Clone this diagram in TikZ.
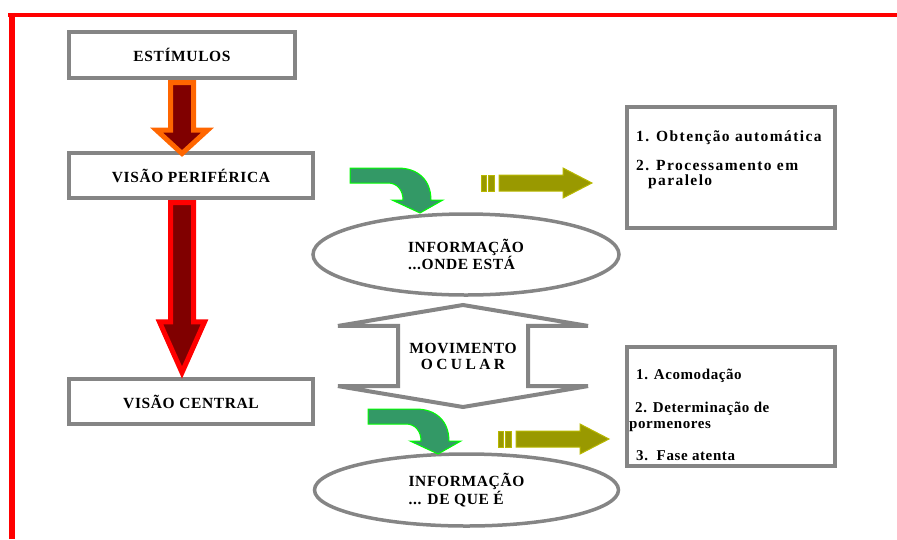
\documentclass[tikz,border=0pt]{standalone}
\usepackage{fontspec}
\usetikzlibrary{shapes.geometric, shapes.arrows, calc}
\usepackage{xcolor}
\newfontfamily\diagFont{Liberation Serif}[LetterSpace=4]
\newfontfamily\listFont{Liberation Serif}[LetterSpace=9]
\definecolor{frameRed}{HTML}{FF0000}
\definecolor{boxGray}{HTML}{858585}
\definecolor{arrowOrange}{HTML}{FF6600}
\definecolor{arrowMaroon}{HTML}{800000}
\definecolor{bendGreen}{HTML}{339966}
\definecolor{bendEdge}{HTML}{00FF00}
\definecolor{oliveFill}{HTML}{999900}
\definecolor{oliveEdge}{HTML}{B8B800}
\tikzset{
    BoldText/.style={font=\diagFont\bfseries\fontsize{15.5}{16}\selectfont},
    GrayBox/.style={BoldText, draw=boxGray, line width=4pt, fill=white, inner sep=0pt},
    InfoEllipse/.style={BoldText, ellipse, draw=boxGray, line width=3.5pt, inner sep=0pt, align=left},
    ListText/.style={align=left, inner sep=0pt, anchor=north west},
    DownArrow/.style={single arrow, rotate=-90, inner sep=0pt, line width=5pt, fill=arrowMaroon, anchor=tail},
    bendArrow/.pic={
        \draw[bendEdge, fill=bendGreen, line width=1pt] (0,0) -- (48,0)
            .. controls (68,0) and (81,12) .. (81,32) -- (93,32) -- (70,45) -- (42,32) -- (53,32)
            .. controls (53,22) and (47,15) .. (38,15) -- (0,15) -- cycle;
    },
    oliveArrow/.pic={
        \draw[oliveEdge, fill=oliveFill, line width=1pt] (0,-8) rectangle (5,8) (7,-8) rectangle (13,8);
        \draw[oliveEdge, fill=oliveFill, line width=1pt] (18,-8) -- (82,-8) -- (82,-15) -- (111,0)
            -- (82,15) -- (82,8) -- (18,8) -- cycle;
    }
}

\begin{document}
\begin{tikzpicture}[x=1pt, y=-1pt]
    \useasboundingbox (0,0) rectangle (897,539);

    % moldura vermelha
    \draw[frameRed, line width=4.5pt] (8,15) -- (897,15);
    \draw[frameRed, line width=6pt] (11.5,12.75) -- (11.5,539);

    % coluna da esquerda
    \node[GrayBox, minimum width=226pt, minimum height=46pt] (est) at (182,55) {ESTÍMULOS};
    \node[GrayBox, minimum width=244pt, minimum height=45pt] (per) at (191,175.5) {VISÃO PERIFÉRICA};
    \node[GrayBox, minimum width=244pt, minimum height=45pt] (cen) at (191,401.5) {VISÃO CENTRAL};

    \node[DownArrow, draw=arrowOrange, minimum height=71pt, minimum width=46pt, inner ysep=9pt,
        single arrow head extend=14pt, single arrow tip angle=95]
        (estArrow) at (est.south) {};
    \node[DownArrow, draw=frameRed, minimum height=170pt, minimum width=40pt, inner ysep=9pt,
        single arrow head extend=11pt, single arrow tip angle=48]
        (perArrow) at (est.south |- per.south) {};

    % elipses de informação
    \node[InfoEllipse, minimum width=306pt, minimum height=81pt] (ondeEsta) at (466,254.5) {INFORMAÇÃO\\...ONDE ESTÁ};
    \node[InfoEllipse, minimum width=304pt, minimum height=72pt] (deQueE) at (466.5,490) {INFORMAÇÃO\\... DE QUE É};

    % movimento ocular
    \node[double arrow, rotate=90, draw=boxGray, line width=4pt, fill=white, inner sep=0pt, inner ysep=63pt,
        minimum height=102pt, minimum width=246pt, double arrow head extend=60pt, double arrow tip angle=161]
        (movArrow) at (463,356) {};
    \node[BoldText, align=center] (movText) at (movArrow.center) {MOVIMENTO\\{\addfontfeatures{LetterSpace=22}OCULAR}};

    % caixas da direita
    \node[GrayBox, minimum width=208pt, minimum height=121pt] (autoBox) at (731,167.5) {};
    \node[ListText, font=\listFont\bfseries\fontsize{15.5}{15.5}\selectfont] (autoText) at (636,130)
        {1. Obtenção automática\\[13.5pt]2. Processamento em\\\hspace*{12pt}paralelo};
    \node[GrayBox, minimum width=208pt, minimum height=119pt] (atentBox) at (731,406.5) {};
    \node[ListText, font=\diagFont\bfseries\fontsize{15}{15.5}\selectfont] (atentText) at (629,369)
        {\hspace*{7pt}1. Acomodação\\[17.5pt]\hspace*{6pt}2. Determinação de\\pormenores\\[16.5pt]\hspace*{7pt}3.\ \ Fase atenta};

    % setas verdes e oliva
    \pic at (350,168) {bendArrow};
    \pic at (368,409) {bendArrow};
    \pic at (481,183) {oliveArrow};
    \pic at (498,439) {oliveArrow};
\end{tikzpicture}
\end{document}
